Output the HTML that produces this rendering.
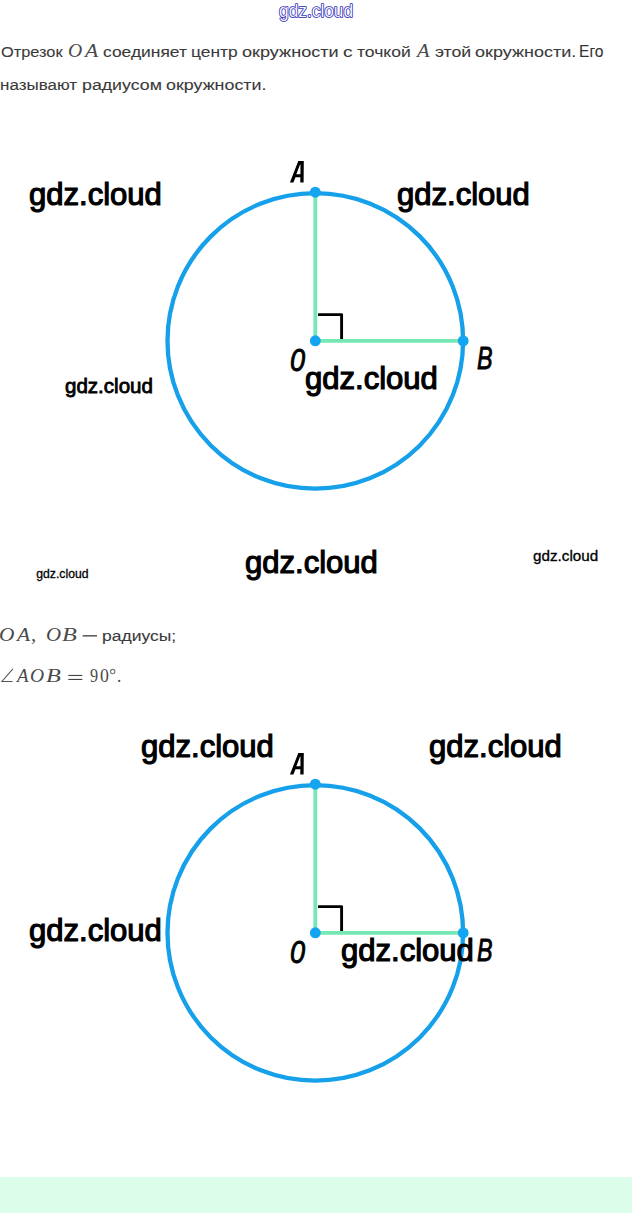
<!DOCTYPE html>
<html><head><meta charset="utf-8">
<style>
html,body{margin:0;padding:0;background:#fff;}
body{width:632px;height:1213px;position:relative;overflow:hidden;font-family:"Liberation Sans",sans-serif;}
.t{position:absolute;white-space:nowrap;line-height:1;transform-origin:0 0;}
#bar{position:absolute;left:0;top:1177px;width:632px;height:36px;background:#dcfde9;}
svg{position:absolute;left:0;top:0;}
</style></head><body>
<svg width="632" height="1213" viewBox="0 0 632 1213">

<g id="d1">
<circle cx="315.3" cy="340.9" r="147.8" fill="none" stroke="#16a0ea" stroke-width="4.3"/>
<line x1="315.3" y1="193" x2="315.3" y2="340.9" stroke="#76e8b4" stroke-width="3.8"/>
<line x1="315.3" y1="340.9" x2="462.5" y2="340.9" stroke="#76e8b4" stroke-width="3.8"/>
<polyline points="318,314.6 341.6,314.6 341.6,339" fill="none" stroke="#000" stroke-width="2.9" stroke-linejoin="round"/>
<path d="M298.3,161 L303.8,161 L303.6,182.6 L300.3,182.6 L300.35,177.3 L295.5,177.3 L293.4,182.6 L289.9,182.6 Z M300.1,164.6 L300.45,164.6 L300.45,174.3 L296.3,174.3 Z" fill="#000" fill-rule="evenodd"/>
<circle cx="315.3" cy="192.2" r="5.45" fill="#14a5f1"/>
<circle cx="315.3" cy="340.8" r="5.45" fill="#14a5f1"/>
<circle cx="463.2" cy="340.9" r="5.45" fill="#14a5f1"/>
</g>

<use href="#d1" transform="translate(0,592.0)"/>
<rect x="82.6" y="635.2" width="14.4" height="1.3" fill="#3a3a3a"/>
<path d="M12.9 668.8 L1.9 681.5 L12.6 681.5" fill="none" stroke="#555" stroke-width="1.05"/>
<rect x="68.3" y="674.9" width="14" height="1.1" fill="#444"/>
<rect x="68.3" y="678.9" width="14" height="1.1" fill="#444"/>
<circle cx="112.7" cy="671.6" r="2.2" fill="none" stroke="#777" stroke-width="1.1"/>
<text transform="translate(279.0,17.0) scale(0.99,1)" font-family="Liberation Sans" font-size="17.5" fill="#f4f4ff" stroke="#1e1eb0" stroke-width="1.5" paint-order="stroke" stroke-linejoin="round">gdz.cloud</text>
</svg>
<div class="t" style="left:0.60px;top:43.50px;font:15.5px 'Liberation Sans';-webkit-text-stroke:0.1px #3a3a3a;line-height:1;color:#3a3a3a;transform:scaleX(1.0542)">Отрезок</div>
<div class="t" style="left:67.89px;top:40.50px;font:italic 19.5px 'Liberation Serif';line-height:1;color:#4a4a4a;transform:scaleX(1.0077)">O</div>
<div class="t" style="left:84.91px;top:40.50px;font:italic 19.5px 'Liberation Serif';line-height:1;color:#4a4a4a;transform:scaleX(1.1077)">A</div>
<div class="t" style="left:103.20px;top:43.50px;font:15.5px 'Liberation Sans';-webkit-text-stroke:0.1px #3a3a3a;line-height:1;color:#3a3a3a;transform:scaleX(1.1240)">соединяет</div>
<div class="t" style="left:190.98px;top:43.50px;font:15.5px 'Liberation Sans';-webkit-text-stroke:0.1px #3a3a3a;line-height:1;color:#3a3a3a;transform:scaleX(1.1200)">центр</div>
<div class="t" style="left:242.00px;top:43.50px;font:15.5px 'Liberation Sans';-webkit-text-stroke:0.1px #3a3a3a;line-height:1;color:#3a3a3a;transform:scaleX(1.1671)">окружности</div>
<div class="t" style="left:343.30px;top:43.50px;font:15.5px 'Liberation Sans';-webkit-text-stroke:0.1px #3a3a3a;line-height:1;color:#3a3a3a;transform:scaleX(1.2429)">с</div>
<div class="t" style="left:357.20px;top:43.50px;font:15.5px 'Liberation Sans';-webkit-text-stroke:0.1px #3a3a3a;line-height:1;color:#3a3a3a;transform:scaleX(1.1298)">точкой</div>
<div class="t" style="left:416.55px;top:40.50px;font:italic 19.5px 'Liberation Serif';line-height:1;color:#4a4a4a;transform:scaleX(1.0538)">A</div>
<div class="t" style="left:434.80px;top:43.50px;font:15.5px 'Liberation Sans';-webkit-text-stroke:0.1px #3a3a3a;line-height:1;color:#3a3a3a;transform:scaleX(1.1387)">этой</div>
<div class="t" style="left:475.30px;top:43.50px;font:15.5px 'Liberation Sans';-webkit-text-stroke:0.1px #3a3a3a;line-height:1;color:#3a3a3a;transform:scaleX(1.1616)">окружности.</div>
<div class="t" style="left:579.44px;top:42.50px;font:16.3px 'Liberation Sans';-webkit-text-stroke:0.1px #3a3a3a;line-height:1;color:#333;transform:scaleX(0.9583)">Его</div>
<div class="t" style="left:-0.30px;top:77.00px;font:15.5px 'Liberation Sans';-webkit-text-stroke:0.1px #3a3a3a;line-height:1;color:#3a3a3a;transform:scaleX(1.0957)">называют</div>
<div class="t" style="left:81.95px;top:77.00px;font:15.5px 'Liberation Sans';-webkit-text-stroke:0.1px #3a3a3a;line-height:1;color:#3a3a3a;transform:scaleX(1.1456)">радиусом</div>
<div class="t" style="left:166.10px;top:77.00px;font:15.5px 'Liberation Sans';-webkit-text-stroke:0.1px #3a3a3a;line-height:1;color:#3a3a3a;transform:scaleX(1.1535)">окружности.</div>
<div class="t" style="left:-0.69px;top:624.50px;font:italic 19.5px 'Liberation Serif';line-height:1;color:#4a4a4a;transform:scaleX(1.0923)">O</div>
<div class="t" style="left:17.30px;top:624.50px;font:italic 19.5px 'Liberation Serif';line-height:1;color:#4a4a4a;transform:scaleX(1.1000)">A</div>
<div class="t" style="left:30.93px;top:624.50px;font:19.5px 'Liberation Serif';line-height:1;color:#4a4a4a;transform:scaleX(1.0667)">,</div>
<div class="t" style="left:45.53px;top:624.50px;font:italic 19.5px 'Liberation Serif';line-height:1;color:#4a4a4a;transform:scaleX(1.0692)">O</div>
<div class="t" style="left:61.60px;top:624.50px;font:italic 19.5px 'Liberation Serif';line-height:1;color:#4a4a4a;transform:scaleX(1.2417)">B</div>
<div class="t" style="left:102.07px;top:627.50px;font:15.5px 'Liberation Sans';-webkit-text-stroke:0.1px #3a3a3a;line-height:1;color:#3a3a3a;transform:scaleX(1.1281)">радиусы;</div>
<div class="t" style="left:16.77px;top:666.30px;font:italic 19.5px 'Liberation Serif';line-height:1;color:#4a4a4a;transform:scaleX(0.9692)">A</div>
<div class="t" style="left:30.00px;top:666.30px;font:italic 19.5px 'Liberation Serif';line-height:1;color:#4a4a4a;transform:scaleX(1.0000)">O</div>
<div class="t" style="left:45.80px;top:666.30px;font:italic 19.5px 'Liberation Serif';line-height:1;color:#4a4a4a;transform:scaleX(1.2417)">B</div>
<div class="t" style="left:89.60px;top:666.30px;font:19.5px 'Liberation Serif';line-height:1;color:#4a4a4a;transform:scaleX(0.8333)">9</div>
<div class="t" style="left:99.80px;top:666.30px;font:19.5px 'Liberation Serif';line-height:1;color:#4a4a4a;transform:scaleX(0.9111)">0</div>
<div class="t" style="left:116.73px;top:666.30px;font:19.5px 'Liberation Serif';line-height:1;color:#4a4a4a;transform:scaleX(0.8667)">.</div>
<div class="t" style="left:29.10px;top:178.80px;font:31.5px 'Liberation Sans';-webkit-text-stroke:1.2px #000;line-height:1;color:#000;transform:scaleX(0.9851)">gdz.cloud</div>
<div class="t" style="left:397.10px;top:178.90px;font:31.5px 'Liberation Sans';-webkit-text-stroke:1.2px #000;line-height:1;color:#000;transform:scaleX(0.9851)">gdz.cloud</div>
<div class="t" style="left:305.10px;top:362.90px;font:31.5px 'Liberation Sans';-webkit-text-stroke:1.2px #000;line-height:1;color:#000;transform:scaleX(0.9851)">gdz.cloud</div>
<div class="t" style="left:245.10px;top:547.00px;font:31.5px 'Liberation Sans';-webkit-text-stroke:1.2px #000;line-height:1;color:#000;transform:scaleX(0.9851)">gdz.cloud</div>
<div class="t" style="left:141.10px;top:731.00px;font:31.5px 'Liberation Sans';-webkit-text-stroke:1.2px #000;line-height:1;color:#000;transform:scaleX(0.9851)">gdz.cloud</div>
<div class="t" style="left:429.10px;top:731.00px;font:31.5px 'Liberation Sans';-webkit-text-stroke:1.2px #000;line-height:1;color:#000;transform:scaleX(0.9851)">gdz.cloud</div>
<div class="t" style="left:29.10px;top:914.90px;font:31.5px 'Liberation Sans';-webkit-text-stroke:1.2px #000;line-height:1;color:#000;transform:scaleX(0.9851)">gdz.cloud</div>
<div class="t" style="left:341.10px;top:934.90px;font:31.5px 'Liberation Sans';-webkit-text-stroke:1.2px #000;line-height:1;color:#000;transform:scaleX(0.9851)">gdz.cloud</div>
<div class="t" style="left:64.70px;top:376.20px;font:20.3px 'Liberation Sans';-webkit-text-stroke:0.8px #000;line-height:1;color:#000;transform:scaleX(1.0128)">gdz.cloud</div>
<div class="t" style="left:36.30px;top:568.10px;font:12.2px 'Liberation Sans';-webkit-text-stroke:0.3px #000;line-height:1;color:#000;transform:scaleX(1.0000)">gdz.cloud</div>
<div class="t" style="left:532.70px;top:549.30px;font:14px 'Liberation Sans';-webkit-text-stroke:0.3px #000;line-height:1;color:#000;transform:scaleX(1.0883)">gdz.cloud</div>
<div class="t" style="left:289.75px;top:344.10px;font:italic 32px 'Liberation Sans';-webkit-text-stroke:0.9px #000;line-height:1;color:#000;transform:scaleX(0.8471)">0</div>
<div class="t" style="left:477.10px;top:341.90px;font:italic 32px 'Liberation Sans';-webkit-text-stroke:0.9px #000;line-height:1;color:#000;transform:scaleX(0.7286)">B</div>
<div class="t" style="left:289.75px;top:936.10px;font:italic 32px 'Liberation Sans';-webkit-text-stroke:0.9px #000;line-height:1;color:#000;transform:scaleX(0.8471)">0</div>
<div class="t" style="left:477.10px;top:933.90px;font:italic 32px 'Liberation Sans';-webkit-text-stroke:0.9px #000;line-height:1;color:#000;transform:scaleX(0.7286)">B</div>
<div id="bar"></div>
</body></html>
